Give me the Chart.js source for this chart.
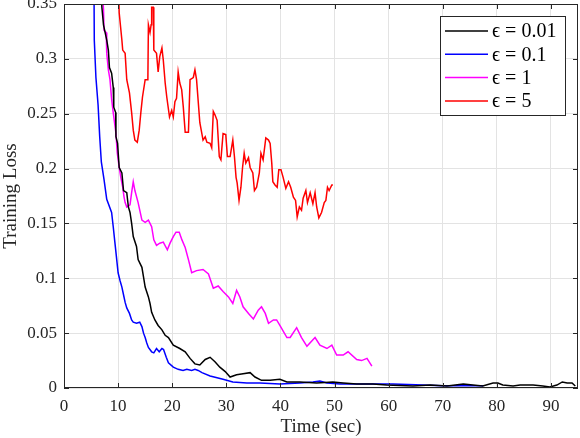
<!DOCTYPE html>
<html>
<head>
<meta charset="utf-8">
<script src="https://cdn.jsdelivr.net/npm/chart.js@4.4.1/dist/chart.umd.min.js"></script>
<style>
  html, body { margin: 0; padding: 0; background: #fff; }
  #wrap { width: 580px; height: 438px; }
</style>
</head>
<body>
<div id="wrap"><canvas id="chart" width="580" height="438"></canvas></div>
<script>
// eps = 0.01
const timeE001 = [6.6, 7.0, 7.3, 7.9, 8.2, 8.4, 8.8, 9.1, 9.2, 9.55, 9.6, 9.9, 10.2, 10.7, 11.0, 11.6, 11.9, 12.2, 12.5, 12.8,
    13.4, 13.7, 14.4, 14.7, 15.0, 15.6, 15.9, 16.2, 16.8, 17.4, 18.1, 18.7, 19.3, 20.2, 21.4, 22.4, 23.3, 24.2, 25.1, 26.1,
    27.0, 27.9, 28.8, 29.8, 30.7, 31.9, 33.1, 34.4, 35.3, 36.5, 38.1, 39.9, 41.2, 43.6, 46.7, 49.7, 51.6, 54.1, 57.1, 59.6,
    64.5, 67.7, 70.8, 73.8, 77.4, 79.3, 80.2, 81.1, 83.0, 84.3, 86.7, 88.5, 89.8, 91.1, 92.1, 93.0, 93.9, 94.5];
const lossE001 = [0.40, 0.347, 0.331, 0.317, 0.308, 0.292, 0.287, 0.274, 0.256, 0.251, 0.229, 0.223, 0.201, 0.196, 0.180, 0.178, 0.165, 0.160, 0.150, 0.138,
    0.129, 0.117, 0.110, 0.101, 0.092, 0.083, 0.077, 0.069, 0.062, 0.057, 0.053, 0.048, 0.046, 0.039, 0.036, 0.033, 0.027, 0.022, 0.021, 0.026,
    0.028, 0.024, 0.019, 0.015, 0.010, 0.012, 0.013, 0.014, 0.010, 0.007, 0.007, 0.008, 0.0055, 0.0055, 0.0046, 0.0055, 0.0046, 0.0036, 0.0036, 0.0027,
    0.0018, 0.0027, 0.0018, 0.0036, 0.0018, 0.0046, 0.0046, 0.0027, 0.0018, 0.0027, 0.0027, 0.0018, 0.0009, 0.0027, 0.0055, 0.0046, 0.0046, 0.0018];

// eps = 0.1
const timeE01 = [5.5, 5.6, 5.9, 6.3, 6.6, 6.9, 7.4, 7.9, 8.8, 9.1, 9.4, 9.7, 10.0, 10.35, 10.7, 11.0, 11.3, 11.6, 12.1, 12.5,
    12.8, 13.4, 14.0, 14.4, 14.7, 15.0, 15.3, 15.6, 16.2, 16.6, 17.1, 17.6, 18.1, 18.4, 18.9, 19.3, 20.2, 21.1, 22.0, 22.7,
    23.6, 24.2, 24.8, 25.5, 27.0, 29.4, 31.2, 33.8, 36.2, 39.9, 43.6, 46.0, 47.3, 48.6, 51.0, 56.0, 58.4, 60.8, 65.0, 70.0,
    75.0, 77.5];
const lossE01 = [0.40, 0.317, 0.283, 0.258, 0.229, 0.206, 0.190, 0.172, 0.160, 0.147, 0.133, 0.119, 0.105, 0.098, 0.092, 0.085, 0.078, 0.073, 0.068, 0.062,
    0.060, 0.059, 0.060, 0.056, 0.050, 0.046, 0.041, 0.037, 0.033, 0.032, 0.036, 0.033, 0.036, 0.035, 0.028, 0.023, 0.019, 0.017, 0.016, 0.017,
    0.016, 0.017, 0.016, 0.014, 0.011, 0.008, 0.0055, 0.0046, 0.0046, 0.0036, 0.0046, 0.0055, 0.0064, 0.0046, 0.0036, 0.0036, 0.0036, 0.0036, 0.003, 0.002,
    0.002, 0.002];

// eps = 1
const timeE1 = [6.7, 7.3, 7.4, 7.8, 7.9, 8.2, 8.5, 8.8, 9.1, 9.6, 9.85, 10.2, 10.5, 10.85, 11.1, 11.3, 11.6, 12.2, 12.5, 12.8,
    13.1, 13.7, 14.4, 15.0, 15.6, 16.2, 16.6, 17.1, 17.7, 18.35, 19.1, 19.6, 20.2, 20.7, 21.3, 21.8, 22.4, 23.0, 23.6, 24.5,
    25.7, 26.7, 27.6, 28.5, 29.4, 30.4, 31.2, 31.9, 32.5, 33.1, 34.1, 35.0, 35.9, 36.5, 37.2, 37.8, 38.7, 39.3, 39.9, 41.2,
    41.8, 43.0, 43.9, 44.9, 46.4, 47.3, 48.6, 49.5, 50.4, 51.6, 52.5, 54.1, 55.0, 56.0, 56.9];
const lossE1 = [0.40, 0.345, 0.326, 0.324, 0.305, 0.290, 0.281, 0.263, 0.251, 0.232, 0.214, 0.201, 0.192, 0.183, 0.174, 0.169, 0.165, 0.167, 0.178, 0.188,
    0.180, 0.169, 0.153, 0.151, 0.153, 0.147, 0.135, 0.130, 0.132, 0.133, 0.126, 0.132, 0.138, 0.142, 0.142, 0.135, 0.128, 0.117, 0.105, 0.107,
    0.108, 0.104, 0.091, 0.093, 0.088, 0.083, 0.077, 0.089, 0.083, 0.074, 0.068, 0.063, 0.071, 0.074, 0.068, 0.059, 0.062, 0.062, 0.057, 0.046,
    0.046, 0.055, 0.046, 0.038, 0.046, 0.039, 0.036, 0.039, 0.030, 0.030, 0.033, 0.026, 0.025, 0.027, 0.020];

// eps = 5
const timeE5 = [9.8, 10.2, 10.7, 10.85, 11.3, 11.6, 12.1, 12.5, 12.8, 13.1, 13.55, 13.9, 14.2, 14.5, 15.0, 15.5, 15.6, 15.9, 16.1, 16.2,
    16.5, 16.6, 17.1, 17.4, 17.7, 18.1, 18.35, 18.7, 19.0, 19.5, 19.9, 20.2, 20.5, 20.8, 21.1, 21.4, 21.75, 22.05, 22.4, 23.0,
    23.3, 23.9, 24.2, 24.5, 25.1, 25.7, 26.1, 26.4, 27.0, 27.3, 27.6, 27.9, 28.3, 28.7, 29.0, 29.15, 29.4, 29.9, 30.2, 30.7,
    31.2, 31.5, 31.8, 32.0, 32.35, 32.7, 33.0, 33.3, 33.6, 34.1, 34.4, 34.9, 35.2, 35.6, 36.1, 36.4, 36.8, 37.3, 37.8, 38.1,
    38.4, 38.6, 39.0, 39.4, 39.7, 40.1, 40.5, 41.0, 41.5, 41.9, 42.4, 42.8, 43.1, 43.5, 43.9, 44.2, 44.7, 45.0, 45.5, 46.0,
    46.4, 46.7, 47.1, 47.6, 48.1, 48.4, 48.7, 49.0, 49.5, 49.7];
const lossE5 = [0.42, 0.342, 0.317, 0.308, 0.305, 0.281, 0.269, 0.251, 0.235, 0.226, 0.224, 0.235, 0.251, 0.265, 0.281, 0.281, 0.331, 0.324, 0.331, 0.347,
    0.347, 0.308, 0.305, 0.288, 0.302, 0.310, 0.299, 0.278, 0.265, 0.247, 0.253, 0.247, 0.261, 0.264, 0.288, 0.278, 0.272, 0.256, 0.233, 0.233,
    0.281, 0.283, 0.290, 0.281, 0.242, 0.226, 0.229, 0.224, 0.223, 0.219, 0.252, 0.249, 0.244, 0.211, 0.208, 0.217, 0.232, 0.231, 0.211, 0.211,
    0.226, 0.211, 0.192, 0.187, 0.171, 0.183, 0.201, 0.214, 0.205, 0.210, 0.201, 0.196, 0.180, 0.183, 0.196, 0.214, 0.208, 0.228, 0.226, 0.223,
    0.205, 0.188, 0.185, 0.183, 0.199, 0.199, 0.192, 0.182, 0.188, 0.183, 0.174, 0.171, 0.156, 0.165, 0.162, 0.173, 0.180, 0.169, 0.178, 0.168,
    0.178, 0.165, 0.155, 0.160, 0.169, 0.171, 0.183, 0.180, 0.185, 0.185];

const legendLabels = ["\u03f5 = 0.01", "\u03f5 = 0.1", "\u03f5 = 1", "\u03f5 = 5"];
const yTickLabels = ["0", "0.05", "0.1", "0.15", "0.2", "0.25", "0.3", "0.35"];
const xTickLabels = ["0", "10", "20", "30", "40", "50", "60", "70", "80", "90"];

const seriesColors = ["#000000", "#0000ff", "#ff00ff", "#ff0000"];
const axisColor = "#262626";
const fontFamily = "'Liberation Serif', 'DejaVu Serif', serif";

let zip = function(xs, ys) {
    return xs.map(function(v, i) { return {x: v, y: ys[i]}; });
};

let allSeries = [
    zip(timeE001, lossE001),
    zip(timeE01, lossE01),
    zip(timeE1, lossE1),
    zip(timeE5, lossE5)
];

// box, inward ticks on all four sides and the legend, MATLAB style
const framePlugin = {
    id: "frame",
    afterDraw: function(chart) {
        let ctx = chart.ctx;
        let a = chart.chartArea;
        let xs = chart.scales.x, ys = chart.scales.y;
        let tick = 5;
        ctx.save();
        ctx.strokeStyle = axisColor;
        ctx.lineWidth = 1;
        ctx.beginPath();
        xs.ticks.forEach(function(t) {
            let px = Math.round(xs.getPixelForValue(t.value)) + 0.5;
            ctx.moveTo(px, a.bottom); ctx.lineTo(px, a.bottom - tick);
            ctx.moveTo(px, a.top); ctx.lineTo(px, a.top + tick);
        });
        ys.ticks.forEach(function(t) {
            let py = Math.round(ys.getPixelForValue(t.value)) + 0.5;
            ctx.moveTo(a.left, py); ctx.lineTo(a.left + tick, py);
            ctx.moveTo(a.right, py); ctx.lineTo(a.right - tick, py);
        });
        ctx.stroke();
        ctx.strokeRect(a.left + 0.5, a.top + 0.5, a.width - 1, a.height - 1);

        // legend
        let boxR = a.right - 12, boxT = a.top + 12;
        let boxW = 126, boxH = 100;
        let boxL = boxR - boxW;
        ctx.fillStyle = "#ffffff";
        ctx.fillRect(boxL, boxT, boxW, boxH);
        ctx.strokeStyle = axisColor;
        ctx.strokeRect(boxL + 0.5, boxT + 0.5, boxW - 1, boxH - 1);
        ctx.font = "20px " + fontFamily;
        ctx.textBaseline = "middle";
        ctx.textAlign = "left";
        legendLabels.forEach(function(label, i) {
            let rowY = boxT + 15 + i * 23.3;
            ctx.strokeStyle = seriesColors[i];
            ctx.lineWidth = 1.5;
            ctx.beginPath();
            ctx.moveTo(boxL + 5, rowY);
            ctx.lineTo(boxL + 48, rowY);
            ctx.stroke();
            ctx.fillStyle = "#000000";
            ctx.fillText(label, boxL + 52, rowY + 1);
        });
        ctx.restore();
    }
};

let context = document.querySelector("#chart").getContext("2d");
new Chart(context, {
    type: "line",
    data: {
        datasets: allSeries.map(function(points, i) {
            return {
                label: legendLabels[i],
                data: points,
                borderColor: seriesColors[i],
                borderWidth: 1.5,
                pointRadius: 0,
                tension: 0,
                fill: false
            };
        })
    },
    options: {
        responsive: false,
        animation: false,
        layout: { padding: { top: 4, right: 2, left: 0, bottom: 0 } },
        plugins: {
            legend: { display: false },
            tooltip: { enabled: false }
        },
        scales: {
            x: {
                type: "linear",
                min: 0,
                max: 95,
                afterFit: function(scale) {
                    scale.height = 50;
                    scale.paddingLeft = 0;
                    scale.paddingRight = 0;
                },
                grid: { color: "#e3e3e3", drawTicks: false },
                border: { display: false },
                ticks: {
                    stepSize: 10,
                    includeBounds: false,
                    padding: 8,
                    color: axisColor,
                    font: { family: fontFamily, size: 17 },
                    callback: function(v) { return xTickLabels[Math.round(v / 10)]; }
                },
                title: {
                    display: true,
                    text: "Time (sec)",
                    color: axisColor,
                    padding: { top: 0, bottom: 0 },
                    font: { family: fontFamily, size: 19 }
                }
            },
            y: {
                type: "linear",
                min: 0,
                max: 0.35,
                afterFit: function(scale) {
                    scale.width = 64;
                    scale.paddingTop = 0;
                    scale.paddingBottom = 0;
                },
                grid: { color: "#e3e3e3", drawTicks: false },
                border: { display: false },
                ticks: {
                    stepSize: 0.05,
                    padding: 7,
                    color: axisColor,
                    font: { family: fontFamily, size: 17 },
                    callback: function(v) { return yTickLabels[Math.round(v / 0.05)]; }
                },
                title: {
                    display: true,
                    text: "Training Loss",
                    color: axisColor,
                    padding: { top: 0, bottom: 0 },
                    font: { family: fontFamily, size: 19 }
                }
            }
        }
    },
    plugins: [framePlugin]
});
</script>
</body>
</html>
